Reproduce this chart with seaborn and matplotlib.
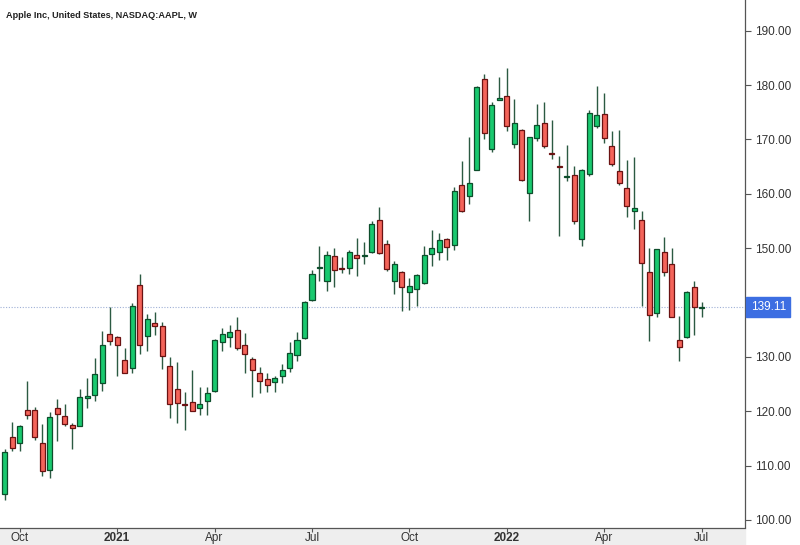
import numpy as np
import pandas as pd
import matplotlib
matplotlib.use("Agg")
import matplotlib.pyplot as plt
import matplotlib.dates as mdates
from matplotlib.patches import Rectangle
import seaborn as sns

# ---------------- data (weekly OHLC) ----------------
start_week = "2020-09-21"
opens = [104.7, 115.3, 114.1, 120.2, 120.2, 114.2, 109.2, 120.6, 119.1, 117.5,
         117.3, 122.5, 122.9, 125.2, 134.2, 133.7, 129.4, 128.0, 143.3, 133.8,
         136.3, 135.6, 128.3, 124.1, 121.3, 121.6, 120.5, 121.9, 123.8, 132.7,
         133.6, 135.0, 132.2, 129.6, 127.1, 126.0, 125.3, 126.4, 128.0, 130.4,
         133.4, 140.4, 146.3, 143.9, 148.5, 146.3, 146.4, 148.7, 148.5, 149.3,
         155.1, 150.8, 143.9, 145.6, 141.9, 142.5, 143.6, 149.0, 149.3, 151.6,
         150.6, 161.7, 159.5, 164.4, 181.2, 168.3, 177.3, 178.0, 169.2, 171.7,
         160.2, 170.3, 173.0, 167.5, 165.2, 163.1, 163.5, 151.7, 163.7, 172.4,
         174.6, 168.7, 164.1, 161.1, 156.8, 155.1, 145.6, 138.0, 149.2, 147.1,
         133.1, 133.6, 142.8, 139.0]
highs = [113.0, 118.1, 117.4, 125.6, 120.7, 117.7, 119.9, 122.3, 121.3, 117.8,
         124.1, 126.1, 129.8, 134.7, 139.1, 133.9, 131.6, 139.9, 145.3, 137.8,
         138.2, 136.4, 130.0, 129.1, 123.6, 127.6, 124.5, 124.5, 133.3, 135.3,
         135.9, 137.4, 134.3, 129.9, 128.2, 127.0, 126.5, 128.7, 132.8, 134.6,
         140.2, 145.9, 150.3, 149.5, 150.0, 148.3, 149.7, 151.9, 151.1, 155.0,
         157.6, 151.5, 147.7, 145.8, 144.5, 145.2, 150.4, 153.4, 152.8, 151.8,
         161.2, 166.0, 170.5, 179.9, 182.1, 176.9, 181.5, 183.1, 177.4, 172.0,
         170.5, 176.5, 176.8, 173.5, 166.9, 168.9, 165.2, 164.6, 175.5, 179.8,
         178.6, 171.5, 171.7, 166.3, 166.7, 156.9, 150.1, 149.8, 152.0, 150.1,
         137.6, 142.2, 143.9, 140.1]
lows = [103.6, 112.6, 112.6, 118.5, 114.7, 108.1, 107.7, 114.5, 117.2, 113.0,
        117.3, 120.6, 121.9, 123.8, 132.1, 126.5, 127.1, 127.1, 130.6, 131.1,
        134.1, 127.8, 118.7, 117.9, 116.6, 120.0, 119.3, 119.3, 123.5, 131.0,
        131.9, 131.3, 127.0, 122.7, 123.3, 123.6, 123.5, 125.2, 127.3, 129.3,
        133.3, 140.3, 143.9, 142.1, 142.9, 145.4, 145.3, 144.9, 147.1, 149.1,
        149.0, 145.7, 141.5, 138.5, 138.6, 139.4, 143.4, 146.7, 147.9, 147.9,
        149.7, 156.6, 158.2, 164.3, 170.1, 167.7, 177.2, 171.5, 168.5, 162.3,
        155.0, 169.8, 168.5, 166.4, 152.2, 162.3, 154.5, 150.4, 163.3, 172.1,
        169.4, 165.2, 161.6, 155.7, 153.6, 139.3, 133.0, 137.4, 144.8, 137.4,
        129.3, 133.5, 134.0, 137.3]
closes = [112.5, 113.2, 117.2, 119.3, 115.3, 109.0, 119.0, 119.5, 117.6, 116.9,
          122.6, 122.8, 126.9, 132.2, 133.0, 132.2, 127.1, 139.3, 132.2, 137.0,
          135.6, 130.1, 121.3, 121.5, 121.1, 120.1, 121.4, 123.4, 133.1, 134.2,
          134.5, 131.6, 130.5, 127.6, 125.6, 124.8, 126.1, 127.6, 130.7, 133.1,
          140.0, 145.3, 146.5, 148.8, 146.0, 146.1, 149.3, 148.2, 148.8, 154.5,
          149.1, 146.2, 147.1, 142.8, 143.0, 145.1, 148.8, 150.1, 151.5, 150.2,
          160.6, 156.9, 162.0, 179.7, 171.2, 176.4, 177.6, 172.4, 173.1, 162.5,
          170.5, 172.6, 168.7, 167.3, 165.0, 163.3, 154.9, 164.3, 174.9, 174.5,
          170.3, 165.4, 161.9, 157.7, 157.4, 147.3, 137.7, 149.8, 145.6, 137.4,
          131.8, 141.9, 139.1, 139.11]
y_ticks = [100, 110, 120, 130, 150, 160, 170, 180, 190]
tick_months = ["2020-10", "2021-01", "2021-04", "2021-07",
               "2021-10", "2022-01", "2022-04", "2022-07"]
tick_labels = ["Oct", "2021", "Apr", "Jul", "Oct", "2022", "Apr", "Jul"]
last_price = 139.11
title = "Apple Inc, United States, NASDAQ:AAPL, W"

dates = pd.date_range(start_week, periods=len(opens), freq="7D")
df = pd.DataFrame({"date": dates, "open": opens, "high": highs,
                   "low": lows, "close": closes})
df["up"] = df["close"] >= df["open"]

# ---------------- style ----------------
sns.set_theme(style="white")
plt.rcParams["font.family"] = ["Liberation Sans", "DejaVu Sans"]

UP_FILL, UP_EDGE = "#19c96f", "#0d4d2b"
DN_FILL, DN_EDGE = "#f4645a", "#6a1212"
WICK = "#2b5a42"

fig = plt.figure(figsize=(8, 5.45), dpi=100)
ax_bottom = 1 - 527.5 / 545
fig.patches.append(Rectangle((0, 0), 745 / 800, ax_bottom,
                             transform=fig.transFigure, color="#eeeeee", zorder=-5))
ax = fig.add_axes([0, ax_bottom, 745 / 800, 1 - ax_bottom])
ax.set_zorder(2)

x = mdates.date2num(df["date"])
# wicks
ax.vlines(x, df["low"], df["high"], color=WICK, lw=1.0, zorder=2)
# bodies
bottom = np.minimum(df["open"], df["close"])
height = np.maximum(np.abs(df["close"] - df["open"]), 0.12)
colors = np.where(df["up"], UP_FILL, DN_FILL)
edges = np.where(df["up"], UP_EDGE, DN_EDGE)
ax.bar(x, height, bottom=bottom, width=4.7, color=colors, edgecolor=edges,
       linewidth=0.9, zorder=3)

# last price line
ax.axhline(last_price, color="#9fb0d6", lw=0.8, ls=(0, (1, 1.5)), zorder=1)

# axes limits
x0 = x[0]
ax.set_xlim(x0 - 0.627 * 7, x0 + 98.77 * 7)
ax.set_ylim(98.6, 195.65)

# x ticks: first weekly bar of each labelled month
tick_pos = []
for m in tick_months:
    sel = df[df["date"].dt.strftime("%Y-%m") == m]
    tick_pos.append(mdates.date2num(sel["date"].iloc[0]))
ax.set_xticks(tick_pos)
ax.set_xticklabels(tick_labels)
for lab in ax.get_xticklabels():
    if lab.get_text().isdigit():
        lab.set_fontweight("bold")
ax.tick_params(axis="x", length=3, width=0.8, color="#555555", labelsize=8.5,
               labelcolor="#333333", pad=0.5, bottom=True)

ax.yaxis.tick_right()
ax.set_yticks(y_ticks)
ax.set_yticklabels([f"{v:.2f}" for v in y_ticks])
ax.tick_params(axis="y", length=4, width=0.8, color="#555555", labelsize=8.5,
               labelcolor="#333333", pad=3, right=True)

for side in ["top", "left"]:
    ax.spines[side].set_visible(False)
for side in ["right", "bottom"]:
    ax.spines[side].set_color("#555555")
    ax.spines[side].set_linewidth(0.9)
ax.grid(False)
ax.set_facecolor("white")

# last price label
ax.annotate(f"{last_price:.2f}", xy=(1.0, last_price),
            xycoords=("axes fraction", "data"), xytext=(4, 0),
            textcoords="offset points", va="center", ha="left",
            fontsize=8.5, color="white",
            bbox=dict(boxstyle="square,pad=0.35", fc="#3c6ee2", ec="#3c6ee2"),
            annotation_clip=False, zorder=5)

fig.text(0.007, 0.972, title, fontsize=6.6, fontweight="bold",
         color="#222222", ha="left", va="center")

fig.savefig("out.png", dpi=100, facecolor="white")
